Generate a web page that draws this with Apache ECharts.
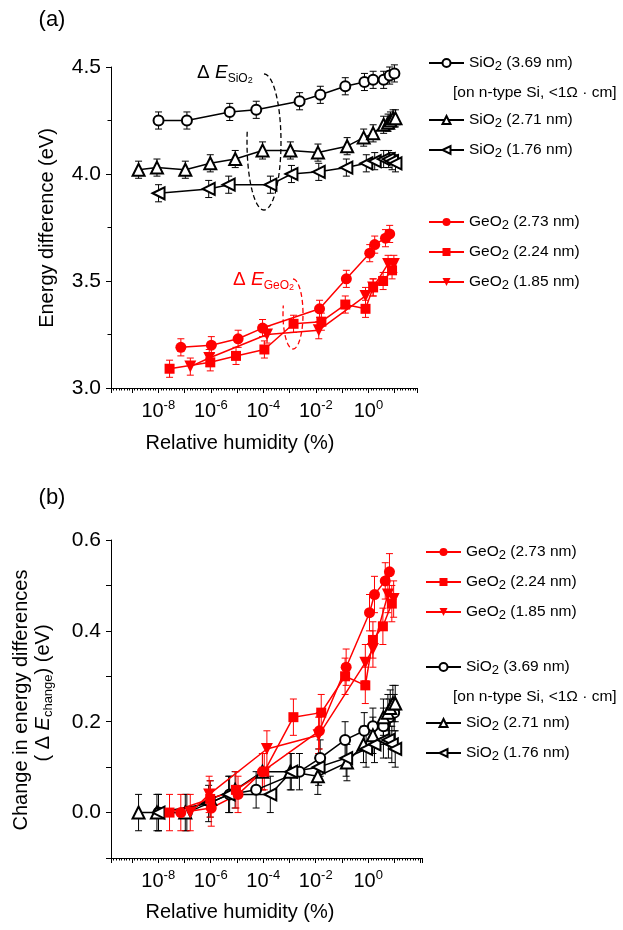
<!DOCTYPE html>
<html>
<head>
<meta charset="utf-8">
<script src="https://cdn.jsdelivr.net/npm/echarts@6/dist/echarts.min.js"></script>
<style>
  html, body { margin: 0; padding: 0; background: #fff; }
  #chart { width: 623px; height: 930px; }
</style>
</head>
<body>
<div id="chart"></div>
<script>
// ── Data: x = log10(relative humidity / %) ──
var names = ['SiO2 (3.69 nm)', 'SiO2 (2.71 nm)', 'SiO2 (1.76 nm)', 'GeO2 (2.73 nm)', 'GeO2 (2.24 nm)', 'GeO2 (1.85 nm)'];

var xS369 = [-7.99, -6.91, -5.28, -4.27, -2.62, -1.83, -0.88, -0.15, 0.18, 0.58, 0.81, 0.99];
var aS369 = [4.25, 4.25, 4.29, 4.30, 4.34, 4.37, 4.41, 4.43, 4.44, 4.44, 4.46, 4.47];
var bS369 = [0.00, 0.00, 0.04, 0.05, 0.09, 0.12, 0.16, 0.18, 0.19, 0.19, 0.21, 0.22];

var xS271 = [-8.75, -8.05, -6.97, -6.02, -5.07, -4.03, -2.97, -1.92, -0.81, -0.18, 0.18, 0.58, 0.75, 0.84, 0.94, 1.03];
var aS271 = [4.02, 4.03, 4.02, 4.05, 4.07, 4.11, 4.11, 4.10, 4.13, 4.17, 4.19, 4.23, 4.24, 4.25, 4.26, 4.26];
var bS271 = [0.00, 0.00, 0.00, 0.03, 0.05, 0.09, 0.09, 0.08, 0.11, 0.15, 0.17, 0.21, 0.22, 0.23, 0.24, 0.24];

var xS176 = [-7.99, -6.08, -5.32, -3.73, -2.93, -1.89, -0.84, -0.08, 0.24, 0.58, 0.77, 0.90, 1.03];
var aS176 = [3.91, 3.93, 3.95, 3.95, 4.00, 4.01, 4.03, 4.05, 4.06, 4.07, 4.07, 4.06, 4.05];
var bS176 = [0.00, 0.02, 0.04, 0.04, 0.09, 0.10, 0.12, 0.14, 0.15, 0.16, 0.16, 0.15, 0.14];

var xG273 = [-7.14, -5.98, -4.96, -4.03, -1.86, -0.84, 0.05, 0.24, 0.65, 0.81];
var aG273 = [3.19, 3.20, 3.23, 3.28, 3.37, 3.51, 3.63, 3.67, 3.70, 3.72];
var bG273 = [0.00, 0.01, 0.04, 0.09, 0.18, 0.32, 0.44, 0.48, 0.51, 0.53];

var xG224 = [-7.57, -6.02, -5.04, -3.96, -2.85, -1.79, -0.88, -0.11, 0.18, 0.56, 0.90];
var aG224 = [3.09, 3.12, 3.15, 3.18, 3.30, 3.31, 3.39, 3.37, 3.47, 3.50, 3.55];
var bG224 = [0.00, 0.03, 0.05, 0.09, 0.21, 0.22, 0.30, 0.28, 0.38, 0.41, 0.46];

var xG185 = [-6.78, -6.06, -3.86, -1.89, -0.11, 0.18, 0.75, 0.97];
var aG185 = [3.10, 3.14, 3.25, 3.27, 3.43, 3.47, 3.58, 3.58];
var bG185 = [0.00, 0.04, 0.14, 0.17, 0.33, 0.36, 0.48, 0.47];

var errA = 0.04;
var errB = 0.04;

(function() {
  var FONT = '"Liberation Sans", Arial, sans-serif';
  var black = '#000000';
  var red = '#ff0000';

  var chart = echarts.init(document.getElementById('chart'), null, { renderer: 'canvas' });

  // labels only on even decades up to 10^0
  function expLabel(v) {
    var r = Math.round(v);
    if (Math.abs(v - r) > 1e-6 || r % 2 !== 0 || r > 0) return '';
    return '{b|10}{sup|' + r + '}';
  }

  function xAxisOpt(gi, max) {
    return {
      type: 'value', gridIndex: gi, min: -9.8, max: max, splitNumber: 12,
      axisLine: { show: true, onZero: false, lineStyle: { color: black, width: 1 } },
      axisTick: { show: true, length: 5, lineStyle: { color: black, width: 1 } },
      minorTick: { show: true, splitNumber: 10, length: 2.5, lineStyle: { color: black, width: 1 } },
      splitLine: { show: false },
      axisLabel: {
        margin: 11, formatter: expLabel,
        rich: {
          b: { fontFamily: FONT, fontSize: 20, color: black, lineHeight: 24 },
          sup: { fontFamily: FONT, fontSize: 13, color: black, lineHeight: 13, verticalAlign: 'top' }
        }
      }
    };
  }

  function yAxisOpt(gi, min, max, interval, fmt) {
    return {
      type: 'value', gridIndex: gi, min: min, max: max, interval: interval,
      axisLine: { show: true, onZero: false, lineStyle: { color: black, width: 1 } },
      axisTick: { show: true, length: 5, lineStyle: { color: black, width: 1 } },
      minorTick: { show: gi === 0, splitNumber: 2, length: 3.5, lineStyle: { color: black, width: 1 } },
      splitLine: { show: false },
      axisLabel: { margin: 10, fontFamily: FONT, fontSize: 21, color: black, formatter: fmt }
    };
  }

  function lineSeries(gi, name, xs, ys, symbol, rot, size, color) {
    var empty = symbol.indexOf('empty') === 0;
    return {
      name: name, type: 'line', xAxisIndex: gi, yAxisIndex: gi,
      data: xs.map(function(x, i) { return [x, ys[i]]; }),
      symbol: symbol, symbolSize: size, symbolRotate: rot, showAllSymbol: true,
      lineStyle: { color: color, width: 1.5 },
      itemStyle: { color: color, borderColor: color, borderWidth: empty ? 1.5 : 0 },
      z: 3
    };
  }

  function errSeries(gi, xs, ys, err, color) {
    return {
      type: 'custom', xAxisIndex: gi, yAxisIndex: gi, silent: true, z: 2,
      data: xs.map(function(x, i) { return [x, ys[i] - err, ys[i] + err]; }),
      encode: { x: 0, y: [1, 2] },
      renderItem: function(params, api) {
        var x = api.value(0);
        var lo = api.coord([x, api.value(1)]);
        var hi = api.coord([x, api.value(2)]);
        var c = 3.5;
        function seg(x1, y1, x2, y2) {
          return { type: 'line', shape: { x1: x1, y1: y1, x2: x2, y2: y2 }, style: { stroke: color, lineWidth: 1 } };
        }
        return { type: 'group', children: [
          seg(lo[0], lo[1], hi[0], hi[1]),
          seg(lo[0] - c, lo[1], lo[0] + c, lo[1]),
          seg(hi[0] - c, hi[1], hi[0] + c, hi[1])
        ] };
      }
    };
  }

  function panelSeries(gi, ys, err) {
    var out = [];
    var sets = [
      [names[0], xS369, ys[0], 'emptyCircle', 0, 10, black],
      [names[1], xS271, ys[1], 'emptyTriangle', 0, 12, black],
      [names[2], xS176, ys[2], 'emptyTriangle', 90, 12, black],
      [names[3], xG273, ys[3], 'circle', 0, 11, red],
      [names[4], xG224, ys[4], 'rect', 0, 10, red],
      [names[5], xG185, ys[5], 'triangle', 180, 12, red]
    ];
    sets.forEach(function(s) {
      out.push(errSeries(gi, s[1], s[2], err, s[6]));
      out.push(lineSeries(gi, s[0], s[1], s[2], s[3], s[4], s[5], s[6]));
    });
    return out;
  }

  function legendOpt(data, left, top) {
    return {
      data: data, left: left, top: top, orient: 'vertical', padding: 0,
      itemWidth: 35, itemHeight: 10, itemGap: 10, selectedMode: false,
      formatter: function(n) { return n.replace('O2', 'O{sub|2}'); },
      textStyle: {
        fontFamily: FONT, fontSize: 15.5, color: black, lineHeight: 20,
        rich: { sub: { fontFamily: FONT, fontSize: 13, color: black, lineHeight: 12, verticalAlign: 'bottom' } }
      }
    };
  }

  function arc(cx, cy, rx, ry, d0, d1) {
    var pts = [];
    for (var d = d0; d <= d1; d += 4) {
      var t = d * Math.PI / 180;
      pts.push([cx + rx * Math.sin(t), cy - ry * Math.cos(t)]);
    }
    return pts;
  }

  function txt(x, y, text, size, extra, rot) {
    var st = { text: text, x: 0, y: 0, fontFamily: FONT, fontSize: size, fill: black, textAlign: 'center', textVerticalAlign: 'middle' };
    for (var k in extra) st[k] = extra[k];
    return { type: 'text', x: x, y: y, rotation: rot || 0, style: st };
  }

  function deltaLabel(x, y, sub, color) {
    return {
      type: 'text', x: x, y: y,
      style: {
        text: '{d|\u0394 }{e|E}{s|' + sub + '}{ss|2}', textVerticalAlign: 'middle',
        rich: {
          d: { fontFamily: FONT, fontSize: 19, fill: color, lineHeight: 24 },
          e: { fontFamily: FONT, fontSize: 19, fontStyle: 'italic', fill: color, lineHeight: 24 },
          s: { fontFamily: FONT, fontSize: 12, fill: color, lineHeight: 14, verticalAlign: 'bottom' },
          ss: { fontFamily: FONT, fontSize: 9, fill: color, lineHeight: 10, verticalAlign: 'bottom' }
        }
      }
    };
  }

  var bracket = '[on n-type Si, <1\u03A9 \u00B7 cm]';

  chart.setOption({
    animation: false,
    grid: [
      { left: 111, top: 67, width: 306, height: 321 },
      { left: 111, top: 540, width: 311, height: 318 }
    ],
    xAxis: [xAxisOpt(0, 1.85), xAxisOpt(1, 2.05)],
    yAxis: [
      yAxisOpt(0, 3.0, 4.5, 0.5, function(v) { return v.toFixed(1); }),
      yAxisOpt(1, -0.1, 0.6, 0.1, function(v) {
        var k = Math.round(v * 10);
        return (k >= 0 && k % 2 === 0) ? (k / 10).toFixed(1) : '';
      })
    ],
    legend: [
      legendOpt([names[0]], 428, 53),
      legendOpt([names[1], names[2]], 428, 110),
      legendOpt([names[3], names[4], names[5]], 428, 212),
      legendOpt([names[3], names[4], names[5]], 425, 542),
      legendOpt([names[0]], 425, 657),
      legendOpt([names[1], names[2]], 425, 713)
    ],
    series: panelSeries(0, [aS369, aS271, aS176, aG273, aG224, aG185], errA)
      .concat(panelSeries(1, [bS369, bS271, bS176, bG273, bG224, bG185], errB)),
    graphic: [
      txt(52, 20, '(a)', 22),
      txt(52, 498, '(b)', 22),
      txt(47, 228, 'Energy difference (eV)', 20, {}, Math.PI / 2),
      txt(240, 443, 'Relative humidity (%)', 20),
      txt(240, 912, 'Relative humidity (%)', 20),
      txt(453, 93, bracket, 15.5, { textAlign: 'left' }),
      txt(453, 697, bracket, 15.5, { textAlign: 'left' }),
      deltaLabel(197, 73, 'SiO', black),
      deltaLabel(233, 280, 'GeO', red),
      { type: 'polyline', shape: { points: arc(264, 142, 17, 68, 0, 280) }, style: { stroke: black, fill: null, lineWidth: 1.3, lineDash: [5, 3] } },
      { type: 'polyline', shape: { points: arc(293, 314, 10, 35, 0, 284) }, style: { stroke: red, fill: null, lineWidth: 1.3, lineDash: [5, 3] } },
      txt(21, 700, 'Change in energy differences', 20, {}, Math.PI / 2),
      {
        type: 'text', x: 43, y: 693, rotation: Math.PI / 2,
        style: {
          text: '{t|( \u0394 }{e|E}{s|change}{t|) (eV)}', textAlign: 'center', textVerticalAlign: 'middle',
          rich: {
            t: { fontFamily: FONT, fontSize: 20, fill: black, lineHeight: 24 },
            e: { fontFamily: FONT, fontSize: 20, fontStyle: 'italic', fill: black, lineHeight: 24 },
            s: { fontFamily: FONT, fontSize: 13, fill: black, lineHeight: 15, verticalAlign: 'bottom' }
          }
        }
      }
    ]
  });
})();
</script>
</body>
</html>
